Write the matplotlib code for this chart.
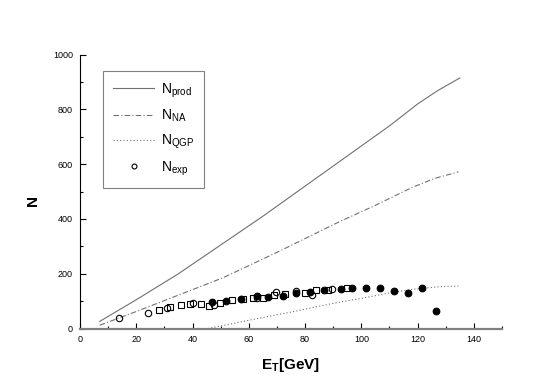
import matplotlib
matplotlib.use("Agg")
import matplotlib.pyplot as plt
from matplotlib.lines import Line2D

plt.rcParams['font.family'] = ['Liberation Sans', 'DejaVu Sans']
plt.rcParams['mathtext.fontset'] = 'custom'
plt.rcParams['mathtext.rm'] = 'Liberation Sans'
plt.rcParams['mathtext.it'] = 'Liberation Sans'
plt.rcParams['mathtext.bf'] = 'Liberation Sans:bold'

# ---- data ----
prod_x = [7, 20, 35, 50, 65, 80, 95, 110, 120, 127, 135]
prod_y = [26, 105, 200, 305, 410, 520, 630, 740, 820, 868, 915]

na_x = [7, 20, 35, 51, 70, 92, 105, 118, 126, 134.5]
na_y = [12, 62, 122, 186, 278, 389, 450, 515, 548, 572]

qgp_x = [45.5, 60, 75, 90, 100, 110, 118, 122, 128, 134.5]
qgp_y = [0, 30, 60, 92, 110, 130, 143, 147, 153, 155]

oc_x = [13.9, 24, 30.9, 40.1, 47.8, 63, 69.7, 76.7, 82.6, 89.5]
oc_y = [38, 56, 74, 92, 85, 113, 134, 138, 121, 144]

sq_x = [28, 32.1, 36, 39, 43.1, 46, 49.8, 54.1, 57.9, 61.6, 64.9, 69, 73, 80, 83.8, 88, 94.8]
sq_y = [66, 80, 87, 88, 89, 84, 94, 104, 108, 112, 112, 124, 126, 130, 142, 142, 149]

fc_x = [47, 52, 57.1, 62.9, 66.9, 72, 76.7, 81.8, 86.9, 92.7, 96.8, 101.5, 106.6, 111.6, 116.6, 121.6, 126.6]
fc_y = [98, 102, 108, 118, 116, 120, 130, 134, 142, 145, 147, 149, 148, 137, 129, 147, 64]

x_ticks = [0, 20, 40, 60, 80, 100, 120, 140]
y_ticks = [0, 200, 400, 600, 800, 1000]

fig = plt.figure(figsize=(5.54, 3.88), dpi=100)
ax = fig.add_axes([80/554, 1-328.5/388, 422/554, 273.8/388])

lc = '#707070'
ax.plot(prod_x, prod_y, color=lc, lw=0.8, ls='-')
ax.plot(na_x, na_y, color=lc, lw=0.8, ls=(0, (5, 2, 1, 2)))
ax.plot(qgp_x, qgp_y, color=lc, lw=0.8, ls=(0, (1, 2)))

ax.plot(sq_x, sq_y, ls='none', marker='s', ms=4.4, mfc='white', mec='black', mew=0.8)
ax.plot(oc_x, oc_y, ls='none', marker='o', ms=4.6, mfc='none', mec='black', mew=0.8)
ax.plot(fc_x, fc_y, ls='none', marker='o', ms=4.8, mfc='black', mec='black', mew=0.8)

ax.set_xlim(0, 150)
ax.set_ylim(0, 1000)
ax.set_xticks(x_ticks)
ax.set_yticks(y_ticks)
ax.set_xticks([10, 30, 50, 70, 90, 110, 130, 150], minor=True)
ax.set_yticks([100, 300, 500, 700, 900], minor=True)
ax.tick_params(which='major', direction='in', length=4.3, width=0.8, labelsize=6.5, pad=5)
ax.tick_params(which='minor', direction='in', length=2.4, width=0.8)

for s in ['top', 'right']:
    ax.spines[s].set_visible(False)
ax.spines['bottom'].set_color('#808080')
ax.spines['bottom'].set_linewidth(1.6)
ax.spines['left'].set_color('black')
ax.spines['left'].set_linewidth(0.8)

ax.set_xlabel(r'$\mathbf{E_T[GeV]}$', fontsize=11, va='top')
ax.xaxis.set_label_coords(0.5, -(356 - 328.5) / 273.8)
ax.set_ylabel('N', fontsize=11, fontweight='bold', va='center')
ax.yaxis.set_label_coords((33 - 80) / 422, (328.5 - 201) / 273.8)

handles = [
    Line2D([], [], color=lc, lw=0.8, ls='-'),
    Line2D([], [], color=lc, lw=0.8, ls=(0, (5, 2, 1, 2))),
    Line2D([], [], color=lc, lw=0.8, ls=(0, (1, 2))),
    Line2D([], [], ls='none', marker='o', ms=3.5, mfc='none', mec='black', mew=0.8),
]
labels = [r'N$_{\mathrm{prod}}$', r'N$_{\mathrm{NA}}$', r'N$_{\mathrm{QGP}}$', r'N$_{\mathrm{exp}}$']
leg = ax.legend(handles, labels, loc='upper left',
                bbox_to_anchor=(103/554, 1 - 71/388), bbox_transform=fig.transFigure,
                borderaxespad=0, fontsize=10, handlelength=2.9, handletextpad=0.5,
                labelspacing=0.6, borderpad=0.75, fancybox=False, frameon=True)
leg.get_frame().set_edgecolor('#606060')
leg.get_frame().set_linewidth(0.8)

fig.savefig('out.png', dpi=100)
